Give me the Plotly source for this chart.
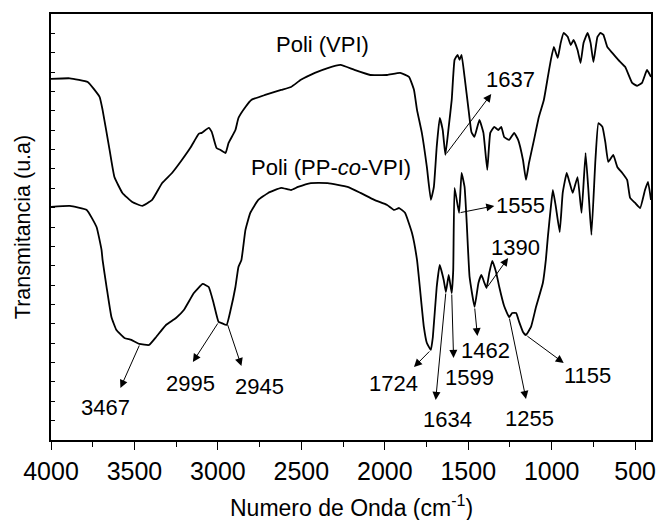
import numpy as np
import plotly.graph_objects as go

# FTIR spectra (wavenumber in cm^-1, transmittance in arbitrary offset units)
vpi_wn = [4000, 3887, 3780, 3709, 3691, 3649, 3620, 3572, 3513, 3453, 3394, 3334, 3275,
          3216, 3162, 3115, 3097, 3055, 3037, 3008, 2984, 2954, 2936, 2895, 2877, 2835,
          2800, 2717, 2621, 2562, 2503, 2419, 2342, 2265, 2182, 2087, 1986, 1908, 1855,
          1825, 1807, 1778, 1748, 1724, 1706, 1689, 1671, 1653, 1637, 1617, 1599, 1582,
          1564, 1552, 1540, 1522, 1498, 1481, 1463, 1433, 1409, 1386, 1368, 1344, 1320,
          1302, 1285, 1255, 1225, 1201, 1172, 1154, 1136, 1106, 1077, 1047, 1023, 1005,
          987, 964, 946, 928, 904, 886, 869, 845, 827, 809, 785, 767, 750, 726, 708, 690,
          667, 637, 601, 560, 518, 488, 459, 429, 405]
vpi_t = [18.65, 18.68, 18.49, 17.72, 17.05, 14.98, 13.58, 12.76, 12.29, 12.09, 12.40, 13.27,
         13.79, 14.46, 15.13, 15.81, 15.86, 16.12, 15.91, 15.08, 14.98, 14.82, 15.34, 16.01,
         16.63, 17.20, 17.56, 17.82, 18.08, 18.23, 18.60, 18.96, 19.21, 19.37, 19.11, 18.85,
         18.85, 18.96, 18.75, 18.08, 17.05, 15.86, 14.10, 12.40, 13.07, 15.13, 16.63, 16.01,
         14.72, 16.17, 17.56, 19.63, 19.89, 19.63, 19.89, 18.75, 17.05, 15.91, 15.65, 16.53,
         15.86, 13.95, 15.86, 16.17, 16.01, 16.17, 15.65, 15.50, 15.86, 15.50, 14.46, 13.43,
         14.31, 15.50, 16.68, 17.56, 18.75, 19.63, 20.30, 19.73, 20.51, 21.02, 20.82, 20.40,
         20.66, 20.14, 19.47, 20.51, 21.02, 20.51, 19.52, 20.82, 21.02, 20.92, 20.30, 19.99,
         19.63, 19.27, 18.44, 18.29, 18.44, 19.11, 18.75]

copol_wn = [4000, 3887, 3786, 3727, 3697, 3691, 3667, 3638, 3608, 3560, 3519, 3471, 3412,
            3370, 3311, 3251, 3204, 3144, 3091, 3055, 3026, 2996, 2978, 2948, 2924, 2895,
            2877, 2859, 2835, 2806, 2758, 2699, 2621, 2562, 2520, 2443, 2342, 2223, 2146,
            2063, 1986, 1944, 1914, 1879, 1837, 1807, 1766, 1748, 1724, 1712, 1689, 1671,
            1647, 1634, 1617, 1599, 1590, 1582, 1555, 1540, 1522, 1510, 1492, 1462, 1439,
            1421, 1403, 1390, 1374, 1356, 1332, 1314, 1285, 1255, 1237, 1213, 1195, 1172,
            1155, 1124, 1094, 1053, 1035, 1023, 1005, 993, 975, 952, 934, 910, 892, 874,
            845, 821, 797, 779, 762, 738, 720, 696, 678, 661, 631, 607, 577, 548, 530, 500,
            470, 441, 423, 405]
copol_t = [12.04, 12.09, 11.88, 11.00, 9.81, 9.30, 7.90, 6.35, 5.68, 5.27, 5.17, 4.96, 4.91,
           5.32, 5.94, 6.30, 6.71, 7.59, 8.06, 7.90, 7.08, 6.10, 6.04, 5.94, 6.71, 7.90,
           8.94, 9.30, 10.85, 11.73, 12.40, 12.76, 13.02, 12.91, 13.07, 13.27, 13.27, 13.07,
           12.76, 12.40, 12.14, 11.88, 11.98, 11.73, 10.69, 9.30, 5.84, 5.01, 4.65, 5.32,
           7.90, 9.04, 8.26, 7.64, 8.52, 7.59, 8.78, 13.02, 11.73, 13.79, 13.07, 11.36,
           8.42, 6.87, 8.11, 8.52, 8.11, 7.85, 8.63, 9.25, 8.63, 7.90, 6.92, 6.35, 6.56,
           6.56, 6.10, 5.58, 5.42, 5.84, 6.87, 8.11, 9.30, 10.49, 12.04, 12.91, 12.04,
           10.74, 12.76, 13.79, 13.27, 12.76, 13.58, 11.73, 14.82, 12.76, 10.59, 14.46,
           16.37, 16.17, 15.34, 14.36, 14.72, 14.10, 13.79, 13.43, 12.50, 12.24, 11.98,
           12.91, 13.33, 12.40]

# Band assignments: labelled wavenumber, which spectrum, arrow head and label positions
band_wn = [1637, 1555, 1390, 3467, 2995, 2945, 1724, 1634, 1599, 1462, 1255, 1155]
band_curve = ["vpi", "copol", "copol", "copol", "copol", "copol",
              "copol", "copol", "copol", "copol", "copol", "copol"]
head_x = [1362, 1344, 1261, 3584, 3150, 2859, 1825, 1695, 1588, 1445, 1154, 928]
head_y = [17.87, 12.09, 9.40, 2.69, 4.03, 3.82, 3.77, 2.07, 4.24, 5.37, 2.12, 3.98]
label_x = [1249, 1189, 1216, 3673, 3165, 2752, 1947, 1626, 1492, 1394, 1133, 785]
label_y = [18.78, 12.29, 10.10, 1.81, 3.07, 2.94, 3.07, 1.19, 3.36, 4.80, 1.24, 3.49]

curve_names = ["Poli (VPI)", "Poli (PP-<i>co</i>-VPI)"]
curve_label_x = [2372, 2321]
curve_label_y = [20.45, 14.05]

FONT = "Liberation Sans, Arial, sans-serif"

spectra = {"vpi": (vpi_wn, vpi_t), "copol": (copol_wn, copol_t)}

fig = go.Figure()
for key, name in zip(["vpi", "copol"], curve_names):
    wn, t = spectra[key]
    fig.add_trace(go.Scatter(x=wn, y=t, mode="lines", name=name,
                             line=dict(color="black", width=1.8, shape="spline",
                                       smoothing=0.35),
                             showlegend=False, hoverinfo="skip"))

annotations = []
for wn, key, hx, hy, lx, ly in zip(band_wn, band_curve, head_x, head_y, label_x, label_y):
    cx, cy = spectra[key]
    # arrow tail sits on the spectrum at the labelled wavenumber
    tail_y = float(np.interp(wn, cx[::-1], cy[::-1]))
    annotations.append(dict(x=hx, y=hy, ax=wn, ay=tail_y, xref="x", yref="y",
                            axref="x", ayref="y", text="", showarrow=True,
                            arrowhead=2, arrowsize=1.6, arrowwidth=1,
                            arrowcolor="black", standoff=0, startstandoff=0))
    annotations.append(dict(x=lx, y=ly, xref="x", yref="y", text=str(wn),
                            showarrow=False, xanchor="center", yanchor="middle",
                            yshift=-3,
                            font=dict(family=FONT, size=22, color="black")))

for name, lx, ly in zip(curve_names, curve_label_x, curve_label_y):
    annotations.append(dict(x=lx, y=ly, xref="x", yref="y", text=name,
                            showarrow=False, xanchor="center", yanchor="middle",
                            font=dict(family=FONT, size=22, color="black")))

# x-axis title placed below the tick labels
annotations.append(dict(x=0.5, y=-0.154, xref="paper", yref="paper",
                        text="Numero de Onda (cm<sup>-1</sup>)", showarrow=False,
                        xanchor="center", yanchor="middle",
                        font=dict(family=FONT, size=23, color="black")))

fig.update_layout(
    width=661, height=520,
    margin=dict(l=51, r=5, t=14, b=80),
    paper_bgcolor="white", plot_bgcolor="white",
    font=dict(family=FONT, color="black"),
    annotations=annotations,
    xaxis=dict(
        range=[4000, 405], showgrid=False, zeroline=False,
        showline=True, linecolor="black", linewidth=1.5, mirror=True,
        ticks="outside", ticklen=8, tickwidth=1.2, tickcolor="black",
        tick0=500, dtick=500,
        minor=dict(ticks="outside", ticklen=5, tickwidth=1.2, tickcolor="black",
                   dtick=250, tick0=500),
        tickfont=dict(family=FONT, size=25, color="black"),
    ),
    yaxis=dict(
        range=[0, 22], showgrid=False, zeroline=False,
        showline=True, linecolor="black", linewidth=1.5, mirror=True,
        ticks="inside", ticklen=4, tickwidth=1.2, tickcolor="black",
        tick0=0, dtick=1, showticklabels=False,
        title=dict(text="Transmitancia (u.a)", standoff=13,
                   font=dict(family=FONT, size=21.5, color="black")),
    ),
)

fig.write_html("out.html")
